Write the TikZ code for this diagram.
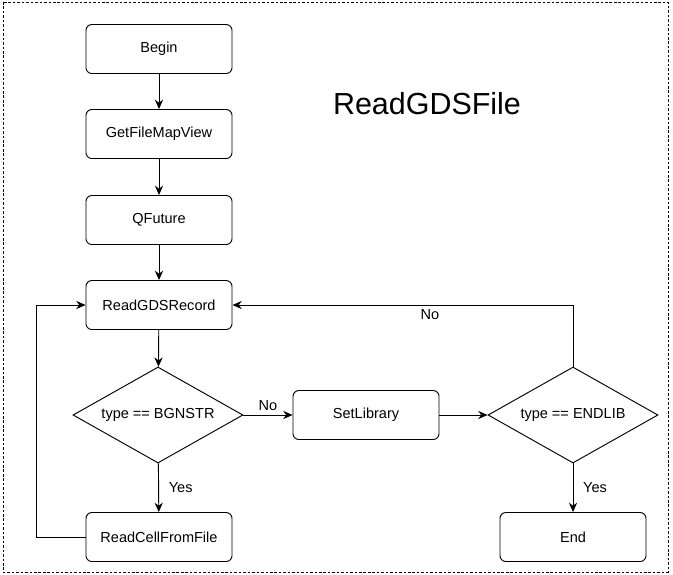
\documentclass[tikz,border=0pt]{standalone}
\usepackage{fontspec}
\setmainfont{Liberation Sans}
\usetikzlibrary{arrows.meta,shapes.geometric}

\begin{document}
\begin{tikzpicture}[x=0.03cm, y=-0.03cm, line width=0.8pt,
  block/.style={rectangle, rounded corners=5pt, draw=black, line width=0.8pt,
    minimum width=4.38cm, minimum height=1.47cm, font=\fontsize{12.4}{15}\selectfont},
  test/.style={diamond, draw=black, line width=0.8pt, aspect=1.77, inner sep=0pt,
    minimum width=5.1cm, minimum height=2.88cm, font=\fontsize{12.4}{15}\selectfont},
  flow/.style={-{Stealth[length=8pt,width=7pt]}},
  lbl/.style={font=\fontsize{12.4}{15}\selectfont}]
  \useasboundingbox (0,0) rectangle (673,574);
  \draw[line width=0.7pt, dash pattern=on 2.2pt off 1.6pt] (3,2) rectangle (668,572);

  \node (title) at (427,104) {\fontsize{26}{30}\selectfont ReadGDSFile};

  \node (begin)    [block] at (159,49)  {Begin};
  \node (mapview)  [block] at (159,134) {GetFileMapView};
  \node (future)   [block] at (159,220) {QFuture};
  \node (readrec)  [block] at (159,305) {ReadGDSRecord};
  \node (bgnstr)   [test]  at (158,415) {type == BGNSTR};
  \node (readcell) [block] at (159,537) {ReadCellFromFile};
  \node (setlib)   [block] at (366,415) {SetLibrary};
  \node (endlib)   [test]  at (573,415) {type == ENDLIB};
  \node (end)      [block] at (573,537) {End};

  \path [flow]
  (begin) edge (mapview)
  (mapview) edge (future)
  (future) edge (readrec)
  (readrec) edge (bgnstr)
  (bgnstr) edge node[lbl, right, xshift=5pt] {Yes} (readcell)
  (bgnstr) edge node[lbl, above] {No} (setlib)
  (setlib) edge (endlib)
  (endlib) edge node[lbl, right, xshift=5pt] {Yes} (end);

  % loops back to ReadGDSRecord
  \draw [flow] (readcell.west) -- ++(-49,0) |- (readrec.west);
  \draw [flow] (endlib.north) |- node[lbl, below, pos=0.71] {No} (readrec.east);
\end{tikzpicture}
\end{document}
